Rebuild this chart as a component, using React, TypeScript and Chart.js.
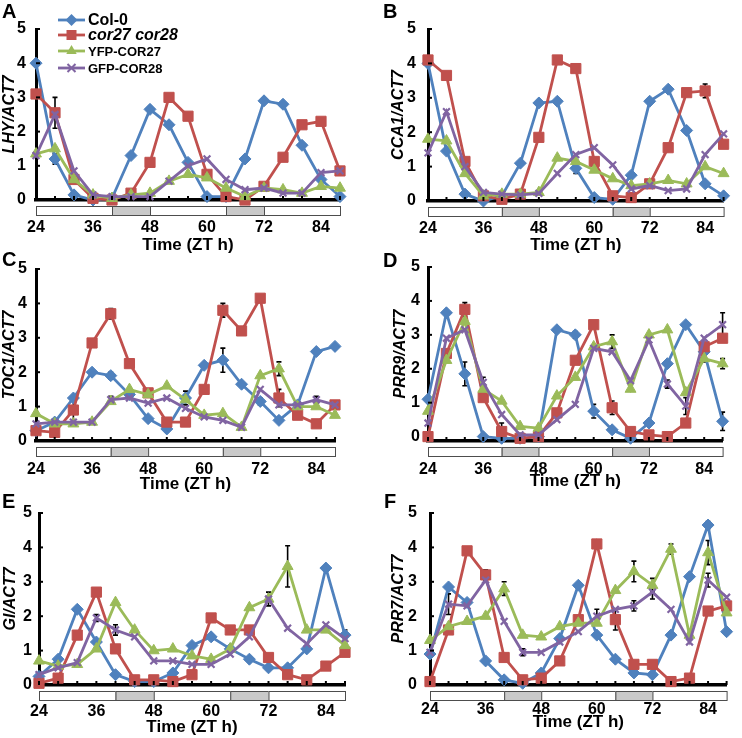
import React, { useEffect, useRef } from "react";
import { Chart, registerables } from "chart.js";

Chart.register(...registerables);

// ---------- data ----------
const times = [24, 28, 32, 36, 40, 44, 48, 52, 56, 60, 64, 68, 72, 76, 80, 84, 88];
const tickLabelHours = [24, 36, 48, 60, 72, 84];
const lightSegments = [
  [24, 40, 0],
  [40, 48, 1],
  [48, 64, 0],
  [64, 72, 1],
  [72, 88, 0],
];
const seriesNames = ["Col-0", "cor27 cor28", "YFP-COR27", "GFP-COR28"];
const seriesColors = ["#4F81BD", "#C0504D", "#9BBB59", "#8064A2"];
const pointStyles = ["rectRot", "rect", "triangle", "crossRot"];
const yTitles = ["LHY/ACT7", "CCA1/ACT7", "TOC1/ACT7", "PRR9/ACT7", "GI/ACT7", "PRR7/ACT7"];
const letters = ["A", "B", "C", "D", "E", "F"];

// A: LHY
const lhyCol0 = [4.0, 1.2, 0.15, 0.0, 0.05, 1.3, 2.65, 2.2, 1.1, 0.1, 0.1, 1.2, 2.9, 2.8, 1.6, 0.6, 0.1];
const lhyCor = [3.1, 2.55, 0.6, 0.05, 0.0, 0.2, 1.1, 3.0, 2.45, 0.75, 0.1, 0.0, 0.4, 1.25, 2.2, 2.3, 0.85];
const lhyYfp = [1.35, 1.5, 0.6, 0.15, 0.05, 0.15, 0.2, 0.55, 0.75, 0.65, 0.35, 0.1, 0.35, 0.3, 0.2, 0.4, 0.35];
const lhyGfp = [1.3, 2.5, 0.85, 0.15, 0.1, 0.1, 0.1, 0.55, 1.0, 1.2, 0.6, 0.3, 0.35, 0.2, 0.2, 0.8, 0.85];
// B: CCA1
const cca1Col0 = [4.0, 1.45, 0.2, 0.0, 0.15, 1.1, 2.85, 2.9, 0.95, 0.1, 0.05, 0.75, 2.9, 3.25, 2.05, 0.5, 0.15];
const cca1Cor = [4.1, 3.65, 1.15, 0.15, 0.05, 0.2, 1.85, 4.1, 3.85, 1.15, 0.15, 0.1, 0.5, 1.55, 3.15, 3.2, 1.65];
const cca1Yfp = [1.8, 1.75, 0.8, 0.15, 0.2, 0.2, 0.25, 1.25, 1.15, 0.9, 0.65, 0.45, 0.5, 0.6, 0.5, 1.0, 0.8];
const cca1Gfp = [1.4, 2.6, 1.0, 0.25, 0.2, 0.18, 0.22, 0.8, 1.35, 1.55, 1.05, 0.35, 0.45, 0.3, 0.35, 1.35, 1.95];
// C: TOC1
const toc1Col0 = [0.3, 0.55, 1.25, 2.0, 1.9, 1.35, 0.65, 0.35, 1.25, 2.2, 2.35, 1.65, 1.15, 0.6, 1.05, 2.6, 2.75];
const toc1Cor = [0.3, 0.25, 0.9, 2.85, 3.7, 2.25, 1.4, 0.55, 0.55, 1.5, 3.8, 3.2, 4.15, 1.25, 0.75, 0.5, 1.05];
const toc1Yfp = [0.8, 0.5, 0.5, 0.55, 1.15, 1.5, 1.35, 1.6, 1.2, 0.75, 0.8, 0.4, 1.9, 2.1, 1.0, 1.0, 0.75];
const toc1Gfp = [0.5, 0.55, 0.55, 0.55, 1.2, 1.25, 1.1, 1.25, 0.95, 0.7, 0.6, 0.4, 1.5, 1.05, 1.05, 1.2, 1.05];
// D: PRR9
const prr9Col0 = [1.1, 3.65, 1.85, 0.0, -0.05, -0.05, 0.0, 3.15, 3.0, 0.75, 0.2, -0.05, 0.4, 2.15, 3.3, 2.5, 0.45];
const prr9Cor = [0.0, 2.45, 3.75, 1.15, 0.15, -0.05, 0.0, 0.7, 2.25, 3.3, 0.85, 0.15, 0.05, 0.0, 0.4, 2.65, 2.9];
const prr9Yfp = [0.75, 2.25, 3.4, 1.4, 1.05, 0.3, 0.25, 1.2, 1.75, 2.65, 2.8, 1.4, 3.0, 3.15, 1.3, 2.3, 2.15];
const prr9Gfp = [0.4, 2.9, 3.15, 1.6, 0.65, 0.05, 0.05, 0.5, 0.95, 2.6, 2.5, 1.65, 2.85, 1.55, 0.9, 2.9, 3.3];
// E: GI
const giCol0 = [0.25, 0.75, 2.2, 1.25, 0.3, 0.1, 0.1, 0.35, 1.15, 1.4, 1.05, 0.75, 0.5, 0.5, 1.05, 3.4, 1.45];
const giCor = [0.05, 0.2, 1.45, 2.7, 1.05, 0.15, 0.15, 0.1, 0.3, 1.95, 1.6, 1.6, 0.8, 0.3, 0.15, 0.55, 0.95];
const giYfp = [0.7, 0.55, 0.6, 1.05, 2.4, 1.6, 1.0, 1.05, 0.85, 0.75, 1.05, 2.25, 2.5, 3.45, 1.6, 1.6, 1.15];
const giGfp = [0.3, 0.5, 0.65, 1.95, 1.6, 1.4, 0.7, 0.7, 0.6, 0.6, 0.9, 1.4, 2.5, 1.65, 1.2, 1.75, 1.35];
// F: PRR7
const prr7Col0 = [0.9, 2.85, 2.4, 0.7, 0.15, 0.05, 0.35, 1.35, 2.9, 1.45, 0.75, 0.35, 0.3, 1.45, 3.15, 4.65, 1.55];
const prr7Cor = [0.1, 1.6, 3.9, 3.2, 0.8, 0.15, 0.2, 0.7, 1.9, 4.1, 1.9, 0.6, 0.6, 0.1, 0.2, 2.15, 2.3];
const prr7Yfp = [1.3, 1.7, 1.85, 2.0, 2.8, 1.45, 1.4, 1.7, 1.8, 1.8, 2.75, 3.3, 2.9, 3.95, 1.45, 3.85, 2.1];
const prr7Gfp = [0.95, 2.35, 2.3, 3.05, 1.85, 0.95, 0.95, 1.25, 1.55, 2.0, 2.2, 2.3, 2.7, 2.2, 1.25, 3.05, 2.55];

// error bars: [series index, time index, error]
const errA = [[1, 1, 0.45], [0, 1, 0.15], [3, 1, 0.1], [1, 9, 0.1]];
const errB = [[1, 1, 0.1], [0, 8, 0.15], [1, 15, 0.2], [1, 2, 0.1]];
const errC = [[1, 4, 0.15], [1, 2, 0.35], [0, 10, 0.35], [1, 10, 0.2], [2, 13, 0.2], [1, 13, 0.25], [0, 8, 0.2], [3, 4, 0.1], [0, 4, 0.1], [3, 15, 0.1], [0, 12, 0.1]];
const errD = [[1, 2, 0.2], [0, 2, 0.35], [3, 3, 0.15], [1, 4, 0.25], [0, 8, 0.1], [0, 9, 0.2], [1, 10, 0.2], [2, 10, 0.2], [3, 13, 0.12], [2, 15, 0.1], [3, 16, 0.35], [0, 16, 0.27], [2, 16, 0.15], [3, 14, 0.25]];
const errE = [[2, 13, 0.6], [3, 12, 0.2], [3, 4, 0.15], [3, 3, 0.1], [0, 16, 0.15]];
const errF = [[3, 1, 0.3], [1, 3, 0.15], [2, 4, 0.2], [3, 5, 0.1], [3, 9, 0.2], [1, 10, 0.3], [2, 11, 0.3], [3, 11, 0.15], [2, 12, 0.2], [3, 12, 0.2], [2, 13, 0.15], [0, 15, 0.1], [2, 15, 0.35], [3, 15, 0.2]];

const panelSeries = [
  [lhyCol0, lhyCor, lhyYfp, lhyGfp],
  [cca1Col0, cca1Cor, cca1Yfp, cca1Gfp],
  [toc1Col0, toc1Cor, toc1Yfp, toc1Gfp],
  [prr9Col0, prr9Cor, prr9Yfp, prr9Gfp],
  [giCol0, giCor, giYfp, giGfp],
  [prr7Col0, prr7Cor, prr7Yfp, prr7Gfp],
];
const panelErrors = [errA, errB, errC, errD, errE, errF];
const panelYMin = [0, 0, 0, -0.13, 0, 0];

// ---------- layout (pixels) ----------
const FONT = "'Liberation Sans', Arial, sans-serif";
const layouts = [
  { x: 0, y: 0, w: 371, h: 256, L: 36, R: 340, T: 29, B: 200, yTitleX: 10, yPad: 10, xTickOff: 28, xTitleY: 245, lx: 2, ly: 18 },
  { x: 371, y: 0, w: 371, h: 256, L: 57, R: 364, T: 29, B: 201, yTitleX: 27.5, yPad: 12, xTickOff: 28, xTitleY: 245, lx: 12, ly: 18 },
  { x: 0, y: 240, w: 371, h: 256, L: 36, R: 335, T: 29, B: 201, yTitleX: 10, yPad: 9, xTickOff: 29, xTitleY: 244, lx: 2, ly: 26 },
  { x: 371, y: 240, w: 371, h: 256, L: 57, R: 365, T: 27, B: 201, yTitleX: 30, yPad: 8, xTickOff: 29, xTitleY: 241, lx: 12, ly: 27 },
  { x: 0, y: 480, w: 371, h: 258, L: 39, R: 345, T: 33, B: 205, yTitleX: 11, yPad: 7, xTickOff: 27, xTitleY: 247, lx: 2, ly: 28 },
  { x: 371, y: 480, w: 371, h: 258, L: 59, R: 363, T: 33, B: 205, yTitleX: 27.5, yPad: 13, xTickOff: 25, xTitleY: 242, lx: 13, ly: 28 },
];
const legendRows = [
  { y: 20, font: `bold 16px ${FONT}` },
  { y: 35, font: `italic bold 16px ${FONT}` },
  { y: 51, font: `bold 13px ${FONT}` },
  { y: 68, font: `bold 13px ${FONT}` },
];

function drawMarker(ctx: CanvasRenderingContext2D, style: string, x: number, y: number, color: string) {
  ctx.save();
  ctx.fillStyle = color;
  ctx.strokeStyle = color;
  ctx.beginPath();
  if (style === "rectRot") {
    const r = 6;
    ctx.moveTo(x, y - r);
    ctx.lineTo(x + r, y);
    ctx.lineTo(x, y + r);
    ctx.lineTo(x - r, y);
    ctx.closePath();
    ctx.fill();
  } else if (style === "rect") {
    const s = 5;
    ctx.rect(x - s, y - s, 2 * s, 2 * s);
    ctx.fill();
  } else if (style === "triangle") {
    const r = 6;
    ctx.moveTo(x, y - r);
    ctx.lineTo(x + r * 0.87, y + r * 0.5);
    ctx.lineTo(x - r * 0.87, y + r * 0.5);
    ctx.closePath();
    ctx.fill();
  } else {
    const r = 4;
    ctx.lineWidth = 2;
    ctx.moveTo(x - r, y - r);
    ctx.lineTo(x + r, y + r);
    ctx.moveTo(x + r, y - r);
    ctx.lineTo(x - r, y + r);
    ctx.stroke();
  }
  ctx.restore();
}

const decorPlugin = {
  id: "decor",
  beforeDatasetsDraw(chart: any, _args: any, opts: any) {
    const ctx = chart.ctx as CanvasRenderingContext2D;
    const xs = chart.scales.x;
    const ys = chart.scales.y;
    ctx.save();
    ctx.strokeStyle = "#000";
    ctx.lineWidth = 1.6;
    for (const [si, ti, e] of opts.errors) {
      const v = opts.series[si][ti];
      const px = xs.getPixelForValue(times[ti]);
      const y1 = ys.getPixelForValue(v + e);
      const y2 = ys.getPixelForValue(v - e);
      ctx.beginPath();
      ctx.moveTo(px, y1);
      ctx.lineTo(px, y2);
      ctx.moveTo(px - 2.5, y1);
      ctx.lineTo(px + 2.5, y1);
      ctx.moveTo(px - 2.5, y2);
      ctx.lineTo(px + 2.5, y2);
      ctx.stroke();
    }
    ctx.restore();
  },
  afterDraw(chart: any, _args: any, opts: any) {
    const ctx = chart.ctx as CanvasRenderingContext2D;
    const xs = chart.scales.x;
    const ys = chart.scales.y;
    const area = chart.chartArea;
    const base = ys.getPixelForValue(ys.min);
    ctx.save();
    // tick marks on x axis
    ctx.strokeStyle = "#000";
    ctx.lineWidth = 2;
    for (const t of xs.ticks) {
      const px = xs.getPixelForValue(t.value);
      ctx.beginPath();
      ctx.moveTo(px, base - 4);
      ctx.lineTo(px, base);
      ctx.stroke();
    }
    for (const t of ys.ticks) {
      if (t.value <= 0) continue;
      const py = ys.getPixelForValue(t.value);
      ctx.beginPath();
      ctx.moveTo(area.left, py);
      ctx.lineTo(area.left + 4, py);
      ctx.stroke();
    }
    // light/dark bar
    const barTop = area.bottom + 6;
    const barH = 9;
    for (const [a, b, dark] of lightSegments) {
      const x1 = xs.getPixelForValue(a);
      const x2 = xs.getPixelForValue(b);
      ctx.fillStyle = dark ? "#c9c9c9" : "#ffffff";
      ctx.fillRect(x1, barTop, x2 - x1, barH);
      ctx.strokeStyle = "#4d4d4d";
      ctx.lineWidth = 1;
      ctx.strokeRect(x1 + 0.5, barTop + 0.5, x2 - x1, barH);
    }
    // panel letter
    ctx.fillStyle = "#000";
    ctx.font = `bold 20px ${FONT}`;
    ctx.textAlign = "left";
    ctx.textBaseline = "alphabetic";
    ctx.fillText(opts.letter, opts.lx, opts.ly);
    // legend
    if (opts.legend) {
      seriesNames.forEach((name, i) => {
        const row = legendRows[i];
        ctx.strokeStyle = seriesColors[i];
        ctx.lineWidth = 2.8;
        ctx.beginPath();
        ctx.moveTo(58, row.y);
        ctx.lineTo(85, row.y);
        ctx.stroke();
        drawMarker(ctx, pointStyles[i], 71.5, row.y, seriesColors[i]);
        ctx.fillStyle = "#000";
        ctx.font = row.font;
        ctx.textBaseline = "middle";
        ctx.fillText(name, 88, row.y + 1);
      });
    }
    ctx.restore();
  },
};

function makeConfig(idx: number): any {
  const g = layouts[idx];
  const series = panelSeries[idx];
  const datasets = series.map((vals, i) => ({
    label: seriesNames[i],
    data: vals.map((v, j) => ({ x: times[j], y: v })),
    borderColor: seriesColors[i],
    backgroundColor: seriesColors[i],
    borderWidth: 2.8,
    pointStyle: pointStyles[i],
    pointRadius: i === 1 ? 7.2 : i === 3 ? 4.8 : i === 2 ? 6.3 : 6,
    pointBorderWidth: i === 3 ? 2.2 : 1,
    pointBackgroundColor: seriesColors[i],
    pointBorderColor: seriesColors[i],
    tension: 0,
    clip: false,
    order: 3 - i,
  }));
  return {
    type: "line",
    data: { datasets },
    plugins: [decorPlugin],
    options: {
      responsive: false,
      animation: false,
      devicePixelRatio: 1,
      layout: { padding: { left: 0, right: g.w - g.R, top: g.T, bottom: 0 } },
      plugins: {
        legend: { display: false },
        tooltip: { enabled: false },
        decor: {
          errors: panelErrors[idx],
          series,
          letter: letters[idx],
          lx: g.lx,
          ly: g.ly,
          legend: idx === 0,
        },
      },
      scales: {
        x: {
          type: "linear",
          min: 24,
          max: 88,
          afterFit: (s: any) => {
            s.height = g.h - g.B;
          },
          grid: { display: false, drawTicks: false, tickLength: 0 },
          border: { display: true, color: "#000", width: 3.5 },
          ticks: {
            stepSize: 4,
            autoSkip: false,
            maxRotation: 0,
            padding: g.xTickOff - 9.6,
            color: "#000",
            font: { family: FONT, size: 16, weight: "bold" },
            callback: (v: number) => (tickLabelHours.includes(v) ? String(v) : ""),
          },
          title: {
            display: true,
            text: "Time (ZT h)",
            color: "#000",
            font: { family: FONT, size: 17, weight: "bold" },
            padding: { top: 0, bottom: g.h - g.xTitleY - 10.2 },
          },
        },
        y: {
          type: "linear",
          min: panelYMin[idx],
          max: 5,
          afterFit: (s: any) => {
            s.width = g.L;
          },
          grid: { display: false, drawTicks: false, tickLength: 0 },
          border: { display: true, color: "#000", width: 3 },
          ticks: {
            stepSize: 1,
            includeBounds: false,
            padding: g.yPad,
            color: "#000",
            font: { family: FONT, size: 16, weight: "bold" },
            callback: (v: number) => (Number.isInteger(v) ? String(v) : ""),
          },
          title: {
            display: true,
            text: yTitles[idx],
            color: "#000",
            font: { family: FONT, size: 16, weight: "bold", style: "italic" },
            padding: { top: g.yTitleX - 9.6, bottom: 0 },
          },
        },
      },
    },
  };
}

function Panel({ idx }: { idx: number }) {
  const ref = useRef<HTMLCanvasElement>(null);
  const g = layouts[idx];
  useEffect(() => {
    const chart = new Chart(ref.current as HTMLCanvasElement, makeConfig(idx));
    return () => chart.destroy();
  }, [idx]);
  return (
    <canvas
      ref={ref}
      width={g.w}
      height={g.h}
      style={{ position: "absolute", left: g.x, top: g.y, width: g.w, height: g.h }}
    />
  );
}

export default function App() {
  return (
    <div
      style={{
        position: "fixed",
        left: 0,
        top: 0,
        width: 742,
        height: 738,
        background: "#ffffff",
        overflow: "hidden",
      }}
    >
      {layouts.map((_, i) => (
        <Panel key={i} idx={i} />
      ))}
    </div>
  );
}
